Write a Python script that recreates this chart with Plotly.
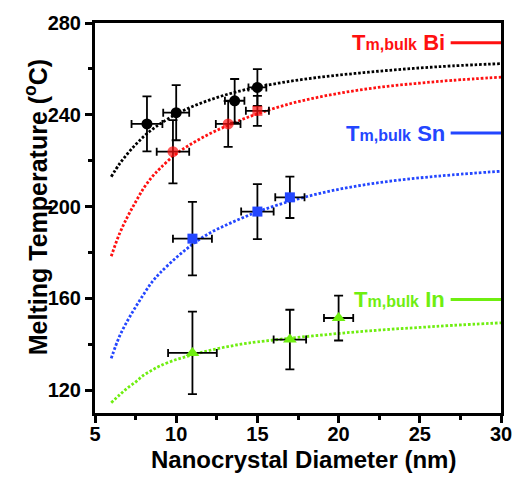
import plotly.graph_objects as go

# ---- fitted curves ----
fit_d = [6, 6.5, 7, 7.5, 8, 8.5, 9, 10, 11, 12, 13, 14, 15, 17, 19, 21, 23, 25, 27, 30]
fit_black = [213, 218.5, 223, 227, 230.5, 233.5, 236, 240.3, 243.6, 246.3, 248.6, 250.5, 252.1,
             254.6, 256.5, 258, 259.3, 260.4, 261.3, 262.3]
fit_red = [178.3, 188, 195.5, 202, 208, 212.8, 216.6, 223, 227.6, 231.5, 234.8, 237.8, 240.4,
           244.8, 248, 250.5, 252.4, 253.8, 255, 256.4]
fit_blue = [133.8, 143.3, 150.2, 156.2, 161.8, 167, 171, 177.7, 183.5, 188.2, 191.7, 194.8, 197.7,
            202.3, 206, 208.8, 210.9, 212.5, 213.8, 215.4]
fit_green = [114.5, 117.8, 120.9, 123.5, 126.5, 128.6, 130.5, 133.3, 135.3, 137.2, 138.7, 140, 141,
             142.6, 144, 145.3, 146.4, 147.3, 148.2, 149.3]

# ---- measured points ----
black_x = [8.2, 10.0, 13.6, 15.0]
black_y = [236, 240.9, 246.1, 251.9]
black_xe = [0.95, 0.8, 0.6, 0.55]
black_ye = [12, 12, 9.5, 8]

red_x = [9.8, 13.2, 15.0]
red_y = [223.9, 236, 241.7]
red_xe = [1.0, 0.76, 0.71]
red_ye = [13.8, 10, 6.5]

blue_x = [11.0, 15.0, 17.0]
blue_y = [186, 197.8, 204]
blue_xe = [1.2, 1.0, 0.9]
blue_ye = [16, 12, 9]

green_x = [11.0, 17.0, 20.0]
green_y = [136.2, 142.0, 151.4]
green_xe = [1.5, 1.0, 0.9]
green_ye = [18, 13, 9.8]

# ---- bulk melting temperatures ----
bulk_names = ["Bi", "Sn", "In"]
bulk_T = [271.4, 232.0, 159.5]

RED = "#FF1010"
BLUE = "#2346FF"
GREEN = "#6FEE10"
BLACK = "#000000"
FONT = "Liberation Sans, Arial, sans-serif"

fig = go.Figure()

for ys, col in [(fit_green, GREEN), (fit_blue, BLUE), (fit_red, RED), (fit_black, BLACK)]:
    fig.add_trace(go.Scatter(x=fit_d, y=ys, mode="lines",
                             line=dict(color=col, width=2.8, dash="2.6px,1.9px", shape="spline"),
                             hoverinfo="skip"))

def pts(x, y, xe, ye, col, sym, size):
    fig.add_trace(go.Scatter(
        x=x, y=y, mode="markers",
        marker=dict(color=col, symbol=sym, size=size, line=dict(width=0)),
        error_x=dict(type="data", array=xe, color=BLACK, thickness=1.8, width=4),
        error_y=dict(type="data", array=ye, color=BLACK, thickness=1.8, width=4.5),
    ))

pts(black_x, black_y, black_xe, black_ye, BLACK, "circle", 11)
pts(red_x, red_y, red_xe, red_ye, RED, ["circle", "circle", "square"], [11, 11, 10])
pts(blue_x, blue_y, blue_xe, blue_ye, BLUE, "square", 10)
pts(green_x, green_y, green_xe, green_ye, GREEN, "triangle-up", 12)

bulk_cols = [RED, BLUE, GREEN]
for name, T, col in zip(bulk_names, bulk_T, bulk_cols):
    fig.add_shape(type="line", xref="x", yref="y", x0=26.9, x1=30, y0=T, y1=T,
                  line=dict(color=col, width=3))
    fig.add_annotation(x=26.9, y=T, xref="x", yref="y", xanchor="right", yanchor="middle",
                       xshift=-4, showarrow=False,
                       text=f"T<span style='font-size:16px'>m,bulk</span> {name}",
                       font=dict(family=FONT, size=22, color=col, weight="bold"))

fig.add_annotation(xref="paper", yref="paper", x=-0.145, y=0.528, textangle=-90,
                   showarrow=False, xanchor="center", yanchor="middle",
                   text="Melting Temperature (<sup>o</sup>C)",
                   font=dict(family=FONT, size=25, color=BLACK, weight="bold"))
fig.add_annotation(xref="paper", yref="paper", x=0.513, y=-0.12,
                   showarrow=False, xanchor="center", yanchor="middle",
                   text="Nanocrystal Diameter (nm)",
                   font=dict(family=FONT, size=24, color=BLACK, weight="bold"))

axis_common = dict(showline=True, linecolor=BLACK, linewidth=3, mirror=True,
                   ticks="outside", ticklen=7, tickwidth=2.5, tickcolor=BLACK,
                   showgrid=False, zeroline=False,
                   tickfont=dict(family=FONT, size=20, color=BLACK, weight="bold"))

fig.update_xaxes(range=[5, 30], tickvals=[5, 10, 15, 20, 25, 30],
                 minor=dict(dtick=2.5, tick0=5, ticks="outside", ticklen=4, tickwidth=2.5, tickcolor=BLACK),
                 **axis_common)
fig.update_yaxes(range=[110, 280], tickvals=[120, 160, 200, 240, 280],
                 minor=dict(dtick=20, tick0=120, ticks="outside", ticklen=4, tickwidth=2.5, tickcolor=BLACK),
                 **axis_common)
try:
    fig.update_xaxes(ticklabelstandoff=-6)
except Exception:
    pass

fig.update_layout(width=524, height=481, margin=dict(l=95, r=15, t=22, b=68),
                  paper_bgcolor="white", plot_bgcolor="white", showlegend=False)

fig.write_html("out.html")
